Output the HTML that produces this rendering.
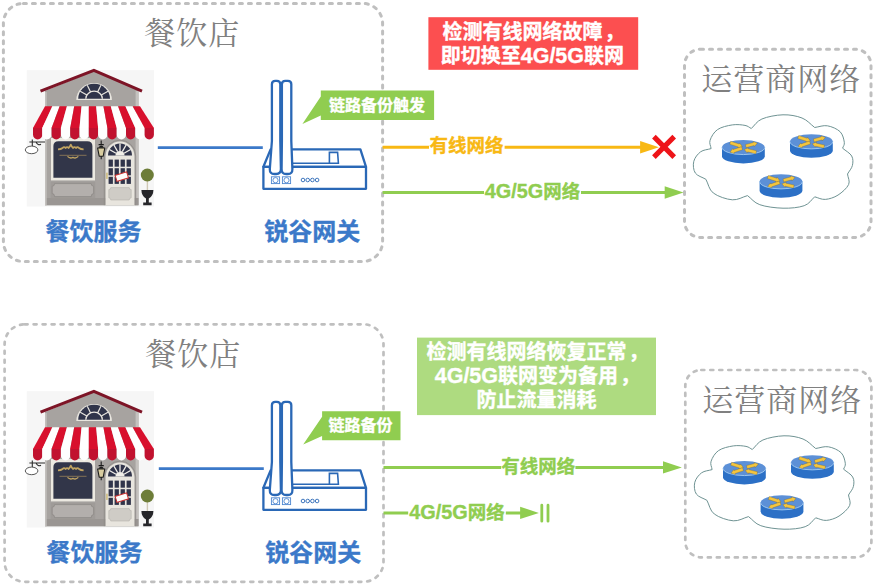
<!DOCTYPE html>
<html lang="zh-CN">
<head>
<meta charset="utf-8">
<title>链路备份</title>
<style>html,body{margin:0;padding:0;background:#fff;}svg{display:block;}</style>
</head>
<body>
<svg width="875" height="586" viewBox="0 0 875 586">
<rect width="875" height="586" fill="#ffffff"/>
<g>
<line x1="157.8" y1="147.6" x2="262.8" y2="147.6" stroke="#3b79c9" stroke-width="2.6"/>
<text x="192.2" y="44.0" font-family='"Liberation Serif", "Noto Serif CJK SC", serif' font-size="31" font-weight="normal" fill="#808080" text-anchor="middle" letter-spacing="1">餐饮店</text>
<text x="93.5" y="240.2" font-family='"Liberation Sans", "Noto Sans CJK SC", sans-serif' font-size="24" font-weight="bold" fill="#3b79c9" text-anchor="middle" stroke="#3b79c9" stroke-width="0.35" stroke-linejoin="round">餐饮服务</text>
<text x="312.3" y="240.2" font-family='"Liberation Sans", "Noto Sans CJK SC", sans-serif' font-size="24" font-weight="bold" fill="#3b79c9" text-anchor="middle" stroke="#3b79c9" stroke-width="0.35" stroke-linejoin="round">锐谷网关</text>
<text x="781.2" y="90.0" font-family='"Liberation Serif", "Noto Serif CJK SC", serif' font-size="31" font-weight="normal" fill="#808080" text-anchor="middle" letter-spacing="1">运营商网络</text>
<path d="M711.1,148.6 C710.8,145.8 709.0,143.4 710.1,140.2 C711.2,137.0 713.8,132.1 717.5,129.6 C721.2,127.0 727.7,125.6 732.3,124.9 C736.9,124.2 741.8,124.8 745.0,125.4 C748.2,126.0 749.2,127.5 751.3,128.5 C754.8,125.3 756.6,121.3 761.9,119.0 C767.2,116.7 776.3,115.0 783.0,114.8 C789.7,114.6 796.7,115.9 802.0,118.0 C807.3,120.1 810.5,124.3 814.7,127.5 C818.9,126.9 823.2,125.1 827.4,125.8 C831.6,126.5 837.3,128.9 840.1,131.7 C842.9,134.4 843.9,139.6 844.3,142.3 C844.7,145.1 843.2,146.2 842.6,148.2 C845.6,150.8 850.1,153.1 851.7,156.0 C853.3,158.9 853.1,162.5 852.4,165.5 C851.7,168.5 849.1,171.2 847.5,174.0 C847.9,177.5 850.2,181.1 848.6,184.6 C847.0,188.1 841.9,192.6 838.0,195.1 C834.1,197.6 829.2,199.1 825.3,199.4 C821.4,199.7 818.2,197.7 814.7,196.8 C811.2,199.8 809.5,203.8 804.2,205.7 C798.9,207.6 790.4,208.4 783.0,208.2 C775.6,208.0 765.7,206.8 759.8,204.7 C753.9,202.6 751.6,198.6 747.5,195.6 C742.4,197.0 738.0,200.2 732.3,199.8 C726.6,199.4 717.7,196.4 713.3,193.0 C708.9,189.6 708.4,183.9 705.9,179.3 C702.4,177.2 697.3,176.0 695.3,173.0 C693.3,170.0 692.9,164.8 693.8,161.3 C694.7,157.8 697.7,153.9 700.6,151.8 C703.5,149.7 707.6,149.7 711.1,148.6 Z" fill="#ffffff" stroke="#6f9393" stroke-width="1" stroke-linejoin="round"/>
<path d="M722.0,147.3 V156.20000000000002 A21.4,7.3 0 0 0 764.8,156.20000000000002 V147.3 Z" fill="#2c70c6"/>
<ellipse cx="743.4" cy="147.3" rx="21.4" ry="7.3" fill="#5c90d7"/>
<path d="M722.0,147.3 A21.4,7.3 0 0 0 764.8,147.3" fill="none" stroke="#a4cdf3" stroke-width="0.9"/>
<g transform="translate(743.4 147.3)" fill="#f4c53e" stroke="#5a4a20" stroke-width="0.25">
<polygon points="-13.67,-3.12 -5.09,-0.38 -5.41,0.62 -1.00,-0.70 -3.83,-4.33 -4.15,-3.33 -12.73,-6.08"/>
<polygon points="2.79,0.30 10.71,-1.75 10.97,-0.73 14.00,-4.20 9.67,-5.77 9.93,-4.75 2.01,-2.70"/>
<polygon points="-1.90,-0.57 -10.31,2.30 -10.64,1.31 -13.40,5.00 -8.96,6.23 -9.30,5.24 -0.90,2.37"/>
<polygon points="13.15,3.49 4.85,1.55 5.09,0.53 0.80,2.20 3.91,5.60 4.15,4.57 12.45,6.51"/>
</g>
<path d="M790.0,141.6 V150.5 A21.4,7.3 0 0 0 832.8,150.5 V141.6 Z" fill="#2c70c6"/>
<ellipse cx="811.4" cy="141.6" rx="21.4" ry="7.3" fill="#5c90d7"/>
<path d="M790.0,141.6 A21.4,7.3 0 0 0 832.8,141.6" fill="none" stroke="#a4cdf3" stroke-width="0.9"/>
<g transform="translate(811.4 141.6)" fill="#f4c53e" stroke="#5a4a20" stroke-width="0.25">
<polygon points="-13.67,-3.12 -5.09,-0.38 -5.41,0.62 -1.00,-0.70 -3.83,-4.33 -4.15,-3.33 -12.73,-6.08"/>
<polygon points="2.79,0.30 10.71,-1.75 10.97,-0.73 14.00,-4.20 9.67,-5.77 9.93,-4.75 2.01,-2.70"/>
<polygon points="-1.90,-0.57 -10.31,2.30 -10.64,1.31 -13.40,5.00 -8.96,6.23 -9.30,5.24 -0.90,2.37"/>
<polygon points="13.15,3.49 4.85,1.55 5.09,0.53 0.80,2.20 3.91,5.60 4.15,4.57 12.45,6.51"/>
</g>
<path d="M759.6,181.6 V190.5 A21.4,7.3 0 0 0 802.4,190.5 V181.6 Z" fill="#2c70c6"/>
<ellipse cx="781" cy="181.6" rx="21.4" ry="7.3" fill="#5c90d7"/>
<path d="M759.6,181.6 A21.4,7.3 0 0 0 802.4,181.6" fill="none" stroke="#a4cdf3" stroke-width="0.9"/>
<g transform="translate(781 181.6)" fill="#f4c53e" stroke="#5a4a20" stroke-width="0.25">
<polygon points="-13.67,-3.12 -5.09,-0.38 -5.41,0.62 -1.00,-0.70 -3.83,-4.33 -4.15,-3.33 -12.73,-6.08"/>
<polygon points="2.79,0.30 10.71,-1.75 10.97,-0.73 14.00,-4.20 9.67,-5.77 9.93,-4.75 2.01,-2.70"/>
<polygon points="-1.90,-0.57 -10.31,2.30 -10.64,1.31 -13.40,5.00 -8.96,6.23 -9.30,5.24 -0.90,2.37"/>
<polygon points="13.15,3.49 4.85,1.55 5.09,0.53 0.80,2.20 3.91,5.60 4.15,4.57 12.45,6.51"/>
</g>
<rect x="26.8" y="70.2" width="127.2" height="136.3" fill="#f6f6f6"/>
<polygon points="45,205.2 45,91 93.9,71 138.5,89.5 138.5,205.2" fill="#a7a3a0"/>
<rect x="135.6" y="91" width="2.9" height="114.2" fill="#c4c1be"/>
<rect x="45" y="198" width="93.5" height="7.2" fill="#9a9693"/>
<polyline points="40.5,91.2 93.9,70.3 142,91.2" fill="none" stroke="#7d1426" stroke-width="3" stroke-linejoin="miter"/>
<path d="M76.3,100 A17.8,17 0 0 1 111.9,100 Z" fill="#e9e6df"/>
<path d="M78.2,98.8 A15.9,15 0 0 1 110,98.8 Z" fill="#30344a"/>
<path d="M85.8,98.8 A8.3,7.6 0 0 1 102.4,98.8" fill="none" stroke="#e9e6df" stroke-width="1.3"/>
<line x1="101.3" y1="95.0" x2="108.0" y2="91.3" stroke="#e9e6df" stroke-width="1.2"/>
<line x1="97.6" y1="91.9" x2="100.9" y2="85.2" stroke="#e9e6df" stroke-width="1.2"/>
<line x1="90.6" y1="91.9" x2="87.3" y2="85.2" stroke="#e9e6df" stroke-width="1.2"/>
<line x1="86.9" y1="95.0" x2="80.2" y2="91.3" stroke="#e9e6df" stroke-width="1.2"/>
<rect x="51" y="138" width="44" height="42.4" fill="#ece9e1"/>
<path d="M53.4,177.8 V146 Q53.4,141.2 58.5,141.2 H87.3 Q92.4,141.2 92.4,146 V177.8 Z" fill="#323649"/>
<path d="M58,149.4 q3,-0.1 4.6,-1.4 q1.5,-1.9 3,0 q1.5,-1.7 3,0 q1.3,-1.5 2.2,-3.4 q0.9,1.9 2.2,3.4 q1.5,-1.7 3,0 q1.5,-1.9 3,0 q1.6,1.3 4.6,1.4" fill="none" stroke="#c2a562" stroke-width="1.7" stroke-linejoin="round"/>
<rect x="45" y="92" width="1.7" height="113.2" fill="#c2bfbc"/>
<line x1="59.5" y1="155.3" x2="86.5" y2="155.3" stroke="#b89b5e" stroke-width="0.6"/>
<path d="M67.5,156.4 q2.5,2.6 5.4,1 q2.9,1.6 5.4,-1" fill="none" stroke="#c2a562" stroke-width="1.3"/>
<rect x="50.6" y="181.6" width="44.6" height="16.6" fill="#9f9b98"/>
<path d="M54.6,183.6 H91.2 Q91.2,186.2 93.6,186.2 V193.6 Q91.2,193.6 91.2,196.6 H54.6 Q54.6,193.6 52.2,193.6 V186.2 Q54.6,186.2 54.6,183.6 Z" fill="#b3afac" stroke="#8b8784" stroke-width="0.7"/>
<path d="M105.6,205.2 V156 A14.4,14.6 0 0 1 134.4,156 V205.2 Z" fill="#e8e5de"/>
<path d="M104.3,205.2 V156 A15.7,15.9 0 0 1 135.7,156 V205.2" fill="none" stroke="#8f8b88" stroke-width="0.9"/>
<path d="M108,155.6 A12,12 0 0 1 132,155.6 Z" fill="#30344a"/>
<line x1="124.0" y1="153.3" x2="130.6" y2="149.5" stroke="#f1efe9" stroke-width="1.3"/>
<line x1="122.3" y1="151.6" x2="126.1" y2="145.0" stroke="#f1efe9" stroke-width="1.3"/>
<line x1="120.0" y1="151.0" x2="120.0" y2="143.4" stroke="#f1efe9" stroke-width="1.3"/>
<line x1="117.7" y1="151.6" x2="113.9" y2="145.0" stroke="#f1efe9" stroke-width="1.3"/>
<line x1="116.0" y1="153.3" x2="109.4" y2="149.5" stroke="#f1efe9" stroke-width="1.3"/>
<path d="M115.4,155.6 A4.6,4.6 0 0 1 124.6,155.6 Z" fill="#f1efe9"/>
<rect x="108.6" y="159.6" width="4.3" height="7.1" fill="#30344a"/>
<rect x="114.6" y="159.6" width="4.3" height="7.1" fill="#30344a"/>
<rect x="120.6" y="159.6" width="4.3" height="7.1" fill="#30344a"/>
<rect x="126.6" y="159.6" width="4.3" height="7.1" fill="#30344a"/>
<rect x="108.6" y="168.2" width="4.3" height="7.1" fill="#30344a"/>
<rect x="114.6" y="168.2" width="4.3" height="7.1" fill="#30344a"/>
<rect x="120.6" y="168.2" width="4.3" height="7.1" fill="#30344a"/>
<rect x="126.6" y="168.2" width="4.3" height="7.1" fill="#30344a"/>
<rect x="108.6" y="176.8" width="4.3" height="7.1" fill="#30344a"/>
<rect x="114.6" y="176.8" width="4.3" height="7.1" fill="#30344a"/>
<rect x="120.6" y="176.8" width="4.3" height="7.1" fill="#30344a"/>
<rect x="126.6" y="176.8" width="4.3" height="7.1" fill="#30344a"/>
<path d="M110.8,187.6 H129.2 Q129.2,189.6 131.2,189.6 V197.8 Q129.2,197.8 129.2,200 H110.8 Q110.8,197.8 108.8,197.8 V189.6 Q110.8,189.6 110.8,187.6 Z" fill="#cfccc6" stroke="#b5b2ac" stroke-width="0.6"/>
<rect x="115.8" y="173.4" width="12" height="6.4" fill="#fdfcfa" stroke="#c62c2c" stroke-width="1" transform="rotate(-17 121.8 176.6)"/>
<rect x="106.3" y="172.5" width="1.3" height="6.5" rx="0.6" fill="#c8b36a"/>
<path d="M101.2,140.6 V144.2 M98.6,144.6 H103.8 M97.6,148 L99.2,156.2 H103.2 L104.8,148 Z M101.2,156.2 V159.2" fill="#d9cda0" stroke="#1c1c1c" stroke-width="1.1" stroke-linejoin="round"/>
<path d="M98.4,147.8 Q101.2,143 104,147.8 Z" fill="#1c1c1c"/>
<path d="M29.4,142 H45 M32.3,139.4 V146 M36,142 q2,4 5,2.2" fill="none" stroke="#2b2b2b" stroke-width="1.1"/>
<ellipse cx="31.6" cy="149.9" rx="6.3" ry="3.8" fill="#ffffff" stroke="#444444" stroke-width="0.9"/>
<path d="M33.00,127.7 H42.30 V134.8 A4.65,4.65 0 0 1 33.00,134.8 Z" fill="#c1122f"/>
<path d="M45.00,106.2 L52.31,106.2 L42.30,128.0 L33.00,128.0 Z" fill="#d8102d"/>
<path d="M42.30,127.7 H51.60 V134.8 A4.65,4.65 0 0 1 42.30,134.8 Z" fill="#fefefe"/>
<path d="M52.31,106.2 L59.62,106.2 L51.60,128.0 L42.30,128.0 Z" fill="#ffffff"/>
<path d="M51.60,127.7 H60.90 V134.8 A4.65,4.65 0 0 1 51.60,134.8 Z" fill="#c1122f"/>
<path d="M59.62,106.2 L66.92,106.2 L60.90,128.0 L51.60,128.0 Z" fill="#d8102d"/>
<path d="M60.90,127.7 H70.20 V134.8 A4.65,4.65 0 0 1 60.90,134.8 Z" fill="#fefefe"/>
<path d="M66.92,106.2 L74.23,106.2 L70.20,128.0 L60.90,128.0 Z" fill="#ffffff"/>
<path d="M70.20,127.7 H79.50 V134.8 A4.65,4.65 0 0 1 70.20,134.8 Z" fill="#c1122f"/>
<path d="M74.23,106.2 L81.54,106.2 L79.50,128.0 L70.20,128.0 Z" fill="#d8102d"/>
<path d="M79.50,127.7 H88.80 V134.8 A4.65,4.65 0 0 1 79.50,134.8 Z" fill="#fefefe"/>
<path d="M81.54,106.2 L88.85,106.2 L88.80,128.0 L79.50,128.0 Z" fill="#ffffff"/>
<path d="M88.80,127.7 H98.10 V134.8 A4.65,4.65 0 0 1 88.80,134.8 Z" fill="#c1122f"/>
<path d="M88.85,106.2 L96.15,106.2 L98.10,128.0 L88.80,128.0 Z" fill="#d8102d"/>
<path d="M98.10,127.7 H107.40 V134.8 A4.65,4.65 0 0 1 98.10,134.8 Z" fill="#fefefe"/>
<path d="M96.15,106.2 L103.46,106.2 L107.40,128.0 L98.10,128.0 Z" fill="#ffffff"/>
<path d="M107.40,127.7 H116.70 V134.8 A4.65,4.65 0 0 1 107.40,134.8 Z" fill="#c1122f"/>
<path d="M103.46,106.2 L110.77,106.2 L116.70,128.0 L107.40,128.0 Z" fill="#d8102d"/>
<path d="M116.70,127.7 H126.00 V134.8 A4.65,4.65 0 0 1 116.70,134.8 Z" fill="#fefefe"/>
<path d="M110.77,106.2 L118.08,106.2 L126.00,128.0 L116.70,128.0 Z" fill="#ffffff"/>
<path d="M126.00,127.7 H135.30 V134.8 A4.65,4.65 0 0 1 126.00,134.8 Z" fill="#c1122f"/>
<path d="M118.08,106.2 L125.38,106.2 L135.30,128.0 L126.00,128.0 Z" fill="#d8102d"/>
<path d="M135.30,127.7 H144.60 V134.8 A4.65,4.65 0 0 1 135.30,134.8 Z" fill="#fefefe"/>
<path d="M125.38,106.2 L132.69,106.2 L144.60,128.0 L135.30,128.0 Z" fill="#ffffff"/>
<path d="M144.60,127.7 H153.90 V134.8 A4.65,4.65 0 0 1 144.60,134.8 Z" fill="#c1122f"/>
<path d="M132.69,106.2 L140.00,106.2 L153.90,128.0 L144.60,128.0 Z" fill="#d8102d"/>
<rect x="146.7" y="180" width="1.4" height="11" fill="#cfc8b4"/>
<circle cx="147.3" cy="175" r="6.5" fill="#6d7d38"/>
<path d="M141.4,190 H153.4 Q153.4,195.5 148.8,198.6 V202.6 H151.6 V205.2 H143.2 V202.6 H146 V198.6 Q141.4,195.5 141.4,190 Z" fill="#26262a"/>
<polygon points="263.4,166.8 270.6,149.4 360.4,149.4 366,166.8" stroke="#2a68b6" stroke-width="2.3" fill="#ffffff" stroke-linejoin="round"/>
<rect x="263.4" y="166.8" width="102.6" height="22" stroke="#2a68b6" stroke-width="2.3" fill="#ffffff" stroke-linejoin="round"/>
<path d="M291,163.2 H329.4 M329.4,163.2 V152.4 H337.6 L338.4,163.2 Z" fill="none" stroke="#2a68b6" stroke-width="1.6"/>
<path d="M271.9,84.2 Q271.9,80.8 275.3,80.8 H276.9 Q280.3,80.8 280.3,84.2 V141 L280.9,169.1 Q280.9,174 276.2,174 H274.4 Q269.6,174 269.8,169.1 L271.9,141 Z" stroke="#2a68b6" stroke-width="2.3" fill="#ffffff" stroke-linejoin="round"/>
<path d="M281.9,84.2 Q281.9,80.8 285.3,80.8 H287.9 Q291.3,80.8 291.3,84.2 V141 L292.4,169.1 Q292.5,174 287.8,174 H286.2 Q281.5,174 281.6,169.1 L281.9,141 Z" stroke="#2a68b6" stroke-width="2.3" fill="#ffffff" stroke-linejoin="round"/>
<rect x="271.4" y="176.8" width="8.2" height="6.8" fill="#ffffff" stroke="#4d86cf" stroke-width="0.9"/>
<circle cx="275.5" cy="180.2" r="2.6" fill="none" stroke="#4d86cf" stroke-width="0.9"/>
<rect x="282.4" y="176.8" width="8.2" height="6.8" fill="#ffffff" stroke="#4d86cf" stroke-width="0.9"/>
<circle cx="286.5" cy="180.2" r="2.6" fill="none" stroke="#4d86cf" stroke-width="0.9"/>
<circle cx="303.0" cy="180" r="1.8" fill="none" stroke="#2a68b6" stroke-width="0.9"/>
<circle cx="307.7" cy="180" r="1.8" fill="none" stroke="#2a68b6" stroke-width="0.9"/>
<circle cx="312.4" cy="180" r="1.8" fill="none" stroke="#2a68b6" stroke-width="0.9"/>
<circle cx="317.1" cy="180" r="1.8" fill="none" stroke="#2a68b6" stroke-width="0.9"/>
<rect x="3.4" y="3.4" width="379.2" height="258.1" rx="20" ry="20" fill="none" stroke="#bfbfbf" stroke-width="3" stroke-dasharray="3 6" stroke-linecap="round"/>
<rect x="684.5" y="49.2" width="186.5" height="188.2" rx="16" ry="16" fill="none" stroke="#bfbfbf" stroke-width="3" stroke-dasharray="3 6" stroke-linecap="round"/>
<rect x="428.4" y="17.2" width="209.8" height="52.6" fill="#fc4f50"/>
<text x="533.6" y="39" font-family='"Liberation Sans", "Noto Sans CJK SC", sans-serif' font-size="20" font-weight="bold" fill="#ffffff" text-anchor="middle" stroke="#ffffff" stroke-width="0.35" stroke-linejoin="round">检测有线网络故障<tspan dx="2">，</tspan></text>
<text x="532.4" y="62.6" font-family='"Liberation Sans", "Noto Sans CJK SC", sans-serif' font-size="20" font-weight="bold" fill="#ffffff" text-anchor="middle" stroke="#ffffff" stroke-width="0.35" stroke-linejoin="round">即切换至<tspan font-size="21.50">4G/5G</tspan>联网</text>
<polygon points="320.8,90.6 434.1,90.6 434.1,119.9 320.8,119.9 320.8,115.5 302.4,124 320.8,96.5" fill="#90cd50"/>
<text x="377" y="110.6" font-family='"Liberation Sans", "Noto Sans CJK SC", sans-serif' font-size="16" font-weight="bold" fill="#ffffff" text-anchor="middle" stroke="#ffffff" stroke-width="0.35" stroke-linejoin="round">链路备份触发</text>
<line x1="382.6" y1="147.3" x2="641.1" y2="147.3" stroke="#f8b814" stroke-width="3"/><polygon points="640.1,141.10000000000002 658.9,147.3 640.1,153.5" fill="#f8b814"/>
<rect x="429" y="136" width="75.6" height="20" fill="#ffffff"/>
<text x="466.5" y="152.0" font-family='"Liberation Sans", "Noto Sans CJK SC", sans-serif' font-size="18.5" font-weight="bold" fill="#f8b814" text-anchor="middle" stroke="#f8b814" stroke-width="0.35" stroke-linejoin="round">有线网络</text>
<path d="M653.9,136.6 L674.2,157.1 M674.2,136.6 L653.9,157.1" stroke="#ee1419" stroke-width="5.1" fill="none"/>
<line x1="382.6" y1="192.5" x2="665.7" y2="192.5" stroke="#90cd50" stroke-width="3"/><polygon points="664.7,186.3 683.5,192.5 664.7,198.7" fill="#90cd50"/>
<rect x="484" y="181" width="97" height="21" fill="#ffffff"/>
<text x="532.5" y="197.9" font-family='"Liberation Sans", "Noto Sans CJK SC", sans-serif' font-size="18.5" font-weight="bold" fill="#90cd50" text-anchor="middle" stroke="#90cd50" stroke-width="0.35" stroke-linejoin="round"><tspan font-size="19.89">4G/5G</tspan>网络</text>
</g>
<g transform="translate(0 321)">
<rect x="26.8" y="70.2" width="127.2" height="136.3" fill="#f6f6f6"/>
<polygon points="45,205.2 45,91 93.9,71 138.5,89.5 138.5,205.2" fill="#a7a3a0"/>
<rect x="135.6" y="91" width="2.9" height="114.2" fill="#c4c1be"/>
<rect x="45" y="198" width="93.5" height="7.2" fill="#9a9693"/>
<polyline points="40.5,91.2 93.9,70.3 142,91.2" fill="none" stroke="#7d1426" stroke-width="3" stroke-linejoin="miter"/>
<path d="M76.3,100 A17.8,17 0 0 1 111.9,100 Z" fill="#e9e6df"/>
<path d="M78.2,98.8 A15.9,15 0 0 1 110,98.8 Z" fill="#30344a"/>
<path d="M85.8,98.8 A8.3,7.6 0 0 1 102.4,98.8" fill="none" stroke="#e9e6df" stroke-width="1.3"/>
<line x1="101.3" y1="95.0" x2="108.0" y2="91.3" stroke="#e9e6df" stroke-width="1.2"/>
<line x1="97.6" y1="91.9" x2="100.9" y2="85.2" stroke="#e9e6df" stroke-width="1.2"/>
<line x1="90.6" y1="91.9" x2="87.3" y2="85.2" stroke="#e9e6df" stroke-width="1.2"/>
<line x1="86.9" y1="95.0" x2="80.2" y2="91.3" stroke="#e9e6df" stroke-width="1.2"/>
<rect x="51" y="138" width="44" height="42.4" fill="#ece9e1"/>
<path d="M53.4,177.8 V146 Q53.4,141.2 58.5,141.2 H87.3 Q92.4,141.2 92.4,146 V177.8 Z" fill="#323649"/>
<path d="M58,149.4 q3,-0.1 4.6,-1.4 q1.5,-1.9 3,0 q1.5,-1.7 3,0 q1.3,-1.5 2.2,-3.4 q0.9,1.9 2.2,3.4 q1.5,-1.7 3,0 q1.5,-1.9 3,0 q1.6,1.3 4.6,1.4" fill="none" stroke="#c2a562" stroke-width="1.7" stroke-linejoin="round"/>
<rect x="45" y="92" width="1.7" height="113.2" fill="#c2bfbc"/>
<line x1="59.5" y1="155.3" x2="86.5" y2="155.3" stroke="#b89b5e" stroke-width="0.6"/>
<path d="M67.5,156.4 q2.5,2.6 5.4,1 q2.9,1.6 5.4,-1" fill="none" stroke="#c2a562" stroke-width="1.3"/>
<rect x="50.6" y="181.6" width="44.6" height="16.6" fill="#9f9b98"/>
<path d="M54.6,183.6 H91.2 Q91.2,186.2 93.6,186.2 V193.6 Q91.2,193.6 91.2,196.6 H54.6 Q54.6,193.6 52.2,193.6 V186.2 Q54.6,186.2 54.6,183.6 Z" fill="#b3afac" stroke="#8b8784" stroke-width="0.7"/>
<path d="M105.6,205.2 V156 A14.4,14.6 0 0 1 134.4,156 V205.2 Z" fill="#e8e5de"/>
<path d="M104.3,205.2 V156 A15.7,15.9 0 0 1 135.7,156 V205.2" fill="none" stroke="#8f8b88" stroke-width="0.9"/>
<path d="M108,155.6 A12,12 0 0 1 132,155.6 Z" fill="#30344a"/>
<line x1="124.0" y1="153.3" x2="130.6" y2="149.5" stroke="#f1efe9" stroke-width="1.3"/>
<line x1="122.3" y1="151.6" x2="126.1" y2="145.0" stroke="#f1efe9" stroke-width="1.3"/>
<line x1="120.0" y1="151.0" x2="120.0" y2="143.4" stroke="#f1efe9" stroke-width="1.3"/>
<line x1="117.7" y1="151.6" x2="113.9" y2="145.0" stroke="#f1efe9" stroke-width="1.3"/>
<line x1="116.0" y1="153.3" x2="109.4" y2="149.5" stroke="#f1efe9" stroke-width="1.3"/>
<path d="M115.4,155.6 A4.6,4.6 0 0 1 124.6,155.6 Z" fill="#f1efe9"/>
<rect x="108.6" y="159.6" width="4.3" height="7.1" fill="#30344a"/>
<rect x="114.6" y="159.6" width="4.3" height="7.1" fill="#30344a"/>
<rect x="120.6" y="159.6" width="4.3" height="7.1" fill="#30344a"/>
<rect x="126.6" y="159.6" width="4.3" height="7.1" fill="#30344a"/>
<rect x="108.6" y="168.2" width="4.3" height="7.1" fill="#30344a"/>
<rect x="114.6" y="168.2" width="4.3" height="7.1" fill="#30344a"/>
<rect x="120.6" y="168.2" width="4.3" height="7.1" fill="#30344a"/>
<rect x="126.6" y="168.2" width="4.3" height="7.1" fill="#30344a"/>
<rect x="108.6" y="176.8" width="4.3" height="7.1" fill="#30344a"/>
<rect x="114.6" y="176.8" width="4.3" height="7.1" fill="#30344a"/>
<rect x="120.6" y="176.8" width="4.3" height="7.1" fill="#30344a"/>
<rect x="126.6" y="176.8" width="4.3" height="7.1" fill="#30344a"/>
<path d="M110.8,187.6 H129.2 Q129.2,189.6 131.2,189.6 V197.8 Q129.2,197.8 129.2,200 H110.8 Q110.8,197.8 108.8,197.8 V189.6 Q110.8,189.6 110.8,187.6 Z" fill="#cfccc6" stroke="#b5b2ac" stroke-width="0.6"/>
<rect x="115.8" y="173.4" width="12" height="6.4" fill="#fdfcfa" stroke="#c62c2c" stroke-width="1" transform="rotate(-17 121.8 176.6)"/>
<rect x="106.3" y="172.5" width="1.3" height="6.5" rx="0.6" fill="#c8b36a"/>
<path d="M101.2,140.6 V144.2 M98.6,144.6 H103.8 M97.6,148 L99.2,156.2 H103.2 L104.8,148 Z M101.2,156.2 V159.2" fill="#d9cda0" stroke="#1c1c1c" stroke-width="1.1" stroke-linejoin="round"/>
<path d="M98.4,147.8 Q101.2,143 104,147.8 Z" fill="#1c1c1c"/>
<path d="M29.4,142 H45 M32.3,139.4 V146 M36,142 q2,4 5,2.2" fill="none" stroke="#2b2b2b" stroke-width="1.1"/>
<ellipse cx="31.6" cy="149.9" rx="6.3" ry="3.8" fill="#ffffff" stroke="#444444" stroke-width="0.9"/>
<path d="M33.00,127.7 H42.30 V134.8 A4.65,4.65 0 0 1 33.00,134.8 Z" fill="#c1122f"/>
<path d="M45.00,106.2 L52.31,106.2 L42.30,128.0 L33.00,128.0 Z" fill="#d8102d"/>
<path d="M42.30,127.7 H51.60 V134.8 A4.65,4.65 0 0 1 42.30,134.8 Z" fill="#fefefe"/>
<path d="M52.31,106.2 L59.62,106.2 L51.60,128.0 L42.30,128.0 Z" fill="#ffffff"/>
<path d="M51.60,127.7 H60.90 V134.8 A4.65,4.65 0 0 1 51.60,134.8 Z" fill="#c1122f"/>
<path d="M59.62,106.2 L66.92,106.2 L60.90,128.0 L51.60,128.0 Z" fill="#d8102d"/>
<path d="M60.90,127.7 H70.20 V134.8 A4.65,4.65 0 0 1 60.90,134.8 Z" fill="#fefefe"/>
<path d="M66.92,106.2 L74.23,106.2 L70.20,128.0 L60.90,128.0 Z" fill="#ffffff"/>
<path d="M70.20,127.7 H79.50 V134.8 A4.65,4.65 0 0 1 70.20,134.8 Z" fill="#c1122f"/>
<path d="M74.23,106.2 L81.54,106.2 L79.50,128.0 L70.20,128.0 Z" fill="#d8102d"/>
<path d="M79.50,127.7 H88.80 V134.8 A4.65,4.65 0 0 1 79.50,134.8 Z" fill="#fefefe"/>
<path d="M81.54,106.2 L88.85,106.2 L88.80,128.0 L79.50,128.0 Z" fill="#ffffff"/>
<path d="M88.80,127.7 H98.10 V134.8 A4.65,4.65 0 0 1 88.80,134.8 Z" fill="#c1122f"/>
<path d="M88.85,106.2 L96.15,106.2 L98.10,128.0 L88.80,128.0 Z" fill="#d8102d"/>
<path d="M98.10,127.7 H107.40 V134.8 A4.65,4.65 0 0 1 98.10,134.8 Z" fill="#fefefe"/>
<path d="M96.15,106.2 L103.46,106.2 L107.40,128.0 L98.10,128.0 Z" fill="#ffffff"/>
<path d="M107.40,127.7 H116.70 V134.8 A4.65,4.65 0 0 1 107.40,134.8 Z" fill="#c1122f"/>
<path d="M103.46,106.2 L110.77,106.2 L116.70,128.0 L107.40,128.0 Z" fill="#d8102d"/>
<path d="M116.70,127.7 H126.00 V134.8 A4.65,4.65 0 0 1 116.70,134.8 Z" fill="#fefefe"/>
<path d="M110.77,106.2 L118.08,106.2 L126.00,128.0 L116.70,128.0 Z" fill="#ffffff"/>
<path d="M126.00,127.7 H135.30 V134.8 A4.65,4.65 0 0 1 126.00,134.8 Z" fill="#c1122f"/>
<path d="M118.08,106.2 L125.38,106.2 L135.30,128.0 L126.00,128.0 Z" fill="#d8102d"/>
<path d="M135.30,127.7 H144.60 V134.8 A4.65,4.65 0 0 1 135.30,134.8 Z" fill="#fefefe"/>
<path d="M125.38,106.2 L132.69,106.2 L144.60,128.0 L135.30,128.0 Z" fill="#ffffff"/>
<path d="M144.60,127.7 H153.90 V134.8 A4.65,4.65 0 0 1 144.60,134.8 Z" fill="#c1122f"/>
<path d="M132.69,106.2 L140.00,106.2 L153.90,128.0 L144.60,128.0 Z" fill="#d8102d"/>
<rect x="146.7" y="180" width="1.4" height="11" fill="#cfc8b4"/>
<circle cx="147.3" cy="175" r="6.5" fill="#6d7d38"/>
<path d="M141.4,190 H153.4 Q153.4,195.5 148.8,198.6 V202.6 H151.6 V205.2 H143.2 V202.6 H146 V198.6 Q141.4,195.5 141.4,190 Z" fill="#26262a"/>
<polygon points="263.4,166.8 270.6,149.4 360.4,149.4 366,166.8" stroke="#2a68b6" stroke-width="2.3" fill="#ffffff" stroke-linejoin="round"/>
<rect x="263.4" y="166.8" width="102.6" height="22" stroke="#2a68b6" stroke-width="2.3" fill="#ffffff" stroke-linejoin="round"/>
<path d="M291,163.2 H329.4 M329.4,163.2 V152.4 H337.6 L338.4,163.2 Z" fill="none" stroke="#2a68b6" stroke-width="1.6"/>
<path d="M271.9,84.2 Q271.9,80.8 275.3,80.8 H276.9 Q280.3,80.8 280.3,84.2 V141 L280.9,169.1 Q280.9,174 276.2,174 H274.4 Q269.6,174 269.8,169.1 L271.9,141 Z" stroke="#2a68b6" stroke-width="2.3" fill="#ffffff" stroke-linejoin="round"/>
<path d="M281.9,84.2 Q281.9,80.8 285.3,80.8 H287.9 Q291.3,80.8 291.3,84.2 V141 L292.4,169.1 Q292.5,174 287.8,174 H286.2 Q281.5,174 281.6,169.1 L281.9,141 Z" stroke="#2a68b6" stroke-width="2.3" fill="#ffffff" stroke-linejoin="round"/>
<rect x="271.4" y="176.8" width="8.2" height="6.8" fill="#ffffff" stroke="#4d86cf" stroke-width="0.9"/>
<circle cx="275.5" cy="180.2" r="2.6" fill="none" stroke="#4d86cf" stroke-width="0.9"/>
<rect x="282.4" y="176.8" width="8.2" height="6.8" fill="#ffffff" stroke="#4d86cf" stroke-width="0.9"/>
<circle cx="286.5" cy="180.2" r="2.6" fill="none" stroke="#4d86cf" stroke-width="0.9"/>
<circle cx="303.0" cy="180" r="1.8" fill="none" stroke="#2a68b6" stroke-width="0.9"/>
<circle cx="307.7" cy="180" r="1.8" fill="none" stroke="#2a68b6" stroke-width="0.9"/>
<circle cx="312.4" cy="180" r="1.8" fill="none" stroke="#2a68b6" stroke-width="0.9"/>
<circle cx="317.1" cy="180" r="1.8" fill="none" stroke="#2a68b6" stroke-width="0.9"/>
</g>
<g transform="translate(1 321)">
<line x1="157.8" y1="147.6" x2="262.8" y2="147.6" stroke="#3b79c9" stroke-width="2.6"/>
<text x="192.2" y="44.0" font-family='"Liberation Serif", "Noto Serif CJK SC", serif' font-size="31" font-weight="normal" fill="#808080" text-anchor="middle" letter-spacing="1">餐饮店</text>
<text x="93.5" y="240.2" font-family='"Liberation Sans", "Noto Sans CJK SC", sans-serif' font-size="24" font-weight="bold" fill="#3b79c9" text-anchor="middle" stroke="#3b79c9" stroke-width="0.35" stroke-linejoin="round">餐饮服务</text>
<text x="312.3" y="240.2" font-family='"Liberation Sans", "Noto Sans CJK SC", sans-serif' font-size="24" font-weight="bold" fill="#3b79c9" text-anchor="middle" stroke="#3b79c9" stroke-width="0.35" stroke-linejoin="round">锐谷网关</text>
<text x="781.2" y="90.0" font-family='"Liberation Serif", "Noto Serif CJK SC", serif' font-size="31" font-weight="normal" fill="#808080" text-anchor="middle" letter-spacing="1">运营商网络</text>
<path d="M711.1,148.6 C710.8,145.8 709.0,143.4 710.1,140.2 C711.2,137.0 713.8,132.1 717.5,129.6 C721.2,127.0 727.7,125.6 732.3,124.9 C736.9,124.2 741.8,124.8 745.0,125.4 C748.2,126.0 749.2,127.5 751.3,128.5 C754.8,125.3 756.6,121.3 761.9,119.0 C767.2,116.7 776.3,115.0 783.0,114.8 C789.7,114.6 796.7,115.9 802.0,118.0 C807.3,120.1 810.5,124.3 814.7,127.5 C818.9,126.9 823.2,125.1 827.4,125.8 C831.6,126.5 837.3,128.9 840.1,131.7 C842.9,134.4 843.9,139.6 844.3,142.3 C844.7,145.1 843.2,146.2 842.6,148.2 C845.6,150.8 850.1,153.1 851.7,156.0 C853.3,158.9 853.1,162.5 852.4,165.5 C851.7,168.5 849.1,171.2 847.5,174.0 C847.9,177.5 850.2,181.1 848.6,184.6 C847.0,188.1 841.9,192.6 838.0,195.1 C834.1,197.6 829.2,199.1 825.3,199.4 C821.4,199.7 818.2,197.7 814.7,196.8 C811.2,199.8 809.5,203.8 804.2,205.7 C798.9,207.6 790.4,208.4 783.0,208.2 C775.6,208.0 765.7,206.8 759.8,204.7 C753.9,202.6 751.6,198.6 747.5,195.6 C742.4,197.0 738.0,200.2 732.3,199.8 C726.6,199.4 717.7,196.4 713.3,193.0 C708.9,189.6 708.4,183.9 705.9,179.3 C702.4,177.2 697.3,176.0 695.3,173.0 C693.3,170.0 692.9,164.8 693.8,161.3 C694.7,157.8 697.7,153.9 700.6,151.8 C703.5,149.7 707.6,149.7 711.1,148.6 Z" fill="#ffffff" stroke="#6f9393" stroke-width="1" stroke-linejoin="round"/>
<path d="M722.0,147.3 V156.20000000000002 A21.4,7.3 0 0 0 764.8,156.20000000000002 V147.3 Z" fill="#2c70c6"/>
<ellipse cx="743.4" cy="147.3" rx="21.4" ry="7.3" fill="#5c90d7"/>
<path d="M722.0,147.3 A21.4,7.3 0 0 0 764.8,147.3" fill="none" stroke="#a4cdf3" stroke-width="0.9"/>
<g transform="translate(743.4 147.3)" fill="#f4c53e" stroke="#5a4a20" stroke-width="0.25">
<polygon points="-13.67,-3.12 -5.09,-0.38 -5.41,0.62 -1.00,-0.70 -3.83,-4.33 -4.15,-3.33 -12.73,-6.08"/>
<polygon points="2.79,0.30 10.71,-1.75 10.97,-0.73 14.00,-4.20 9.67,-5.77 9.93,-4.75 2.01,-2.70"/>
<polygon points="-1.90,-0.57 -10.31,2.30 -10.64,1.31 -13.40,5.00 -8.96,6.23 -9.30,5.24 -0.90,2.37"/>
<polygon points="13.15,3.49 4.85,1.55 5.09,0.53 0.80,2.20 3.91,5.60 4.15,4.57 12.45,6.51"/>
</g>
<path d="M790.0,141.6 V150.5 A21.4,7.3 0 0 0 832.8,150.5 V141.6 Z" fill="#2c70c6"/>
<ellipse cx="811.4" cy="141.6" rx="21.4" ry="7.3" fill="#5c90d7"/>
<path d="M790.0,141.6 A21.4,7.3 0 0 0 832.8,141.6" fill="none" stroke="#a4cdf3" stroke-width="0.9"/>
<g transform="translate(811.4 141.6)" fill="#f4c53e" stroke="#5a4a20" stroke-width="0.25">
<polygon points="-13.67,-3.12 -5.09,-0.38 -5.41,0.62 -1.00,-0.70 -3.83,-4.33 -4.15,-3.33 -12.73,-6.08"/>
<polygon points="2.79,0.30 10.71,-1.75 10.97,-0.73 14.00,-4.20 9.67,-5.77 9.93,-4.75 2.01,-2.70"/>
<polygon points="-1.90,-0.57 -10.31,2.30 -10.64,1.31 -13.40,5.00 -8.96,6.23 -9.30,5.24 -0.90,2.37"/>
<polygon points="13.15,3.49 4.85,1.55 5.09,0.53 0.80,2.20 3.91,5.60 4.15,4.57 12.45,6.51"/>
</g>
<path d="M759.6,181.6 V190.5 A21.4,7.3 0 0 0 802.4,190.5 V181.6 Z" fill="#2c70c6"/>
<ellipse cx="781" cy="181.6" rx="21.4" ry="7.3" fill="#5c90d7"/>
<path d="M759.6,181.6 A21.4,7.3 0 0 0 802.4,181.6" fill="none" stroke="#a4cdf3" stroke-width="0.9"/>
<g transform="translate(781 181.6)" fill="#f4c53e" stroke="#5a4a20" stroke-width="0.25">
<polygon points="-13.67,-3.12 -5.09,-0.38 -5.41,0.62 -1.00,-0.70 -3.83,-4.33 -4.15,-3.33 -12.73,-6.08"/>
<polygon points="2.79,0.30 10.71,-1.75 10.97,-0.73 14.00,-4.20 9.67,-5.77 9.93,-4.75 2.01,-2.70"/>
<polygon points="-1.90,-0.57 -10.31,2.30 -10.64,1.31 -13.40,5.00 -8.96,6.23 -9.30,5.24 -0.90,2.37"/>
<polygon points="13.15,3.49 4.85,1.55 5.09,0.53 0.80,2.20 3.91,5.60 4.15,4.57 12.45,6.51"/>
</g>
<rect x="3.6" y="3.3" width="378.9" height="257.5" rx="20" ry="20" fill="none" stroke="#bfbfbf" stroke-width="2.7" stroke-dasharray="3 6" stroke-linecap="round"/>
<rect x="684.3" y="49" width="186.1" height="187.4" rx="16" ry="16" fill="none" stroke="#bfbfbf" stroke-width="2.7" stroke-dasharray="3 6" stroke-linecap="round"/>
</g>
<rect x="417" y="337.6" width="239" height="77.5" fill="#aedb80"/>
<text x="537.4" y="359.2" font-family='"Liberation Sans", "Noto Sans CJK SC", sans-serif' font-size="20" font-weight="bold" fill="#ffffff" text-anchor="middle" stroke="#ffffff" stroke-width="0.35" stroke-linejoin="round">检测有线网络恢复正常<tspan dx="2">，</tspan></text>
<text x="537.4" y="383.0" font-family='"Liberation Sans", "Noto Sans CJK SC", sans-serif' font-size="20" font-weight="bold" fill="#ffffff" text-anchor="middle" stroke="#ffffff" stroke-width="0.35" stroke-linejoin="round"><tspan font-size="21.50">4G/5G</tspan>联网变为备用<tspan dx="2">，</tspan></text>
<text x="536.5" y="406.8" font-family='"Liberation Sans", "Noto Sans CJK SC", sans-serif' font-size="20" font-weight="bold" fill="#ffffff" text-anchor="middle" stroke="#ffffff" stroke-width="0.35" stroke-linejoin="round">防止流量消耗</text>
<polygon points="322.1,411.2 400.5,411.2 400.5,440.3 322.1,440.3 322.1,436 303.2,444.5 322.1,416.8" fill="#90cd50"/>
<text x="360.6" y="431.2" font-family='"Liberation Sans", "Noto Sans CJK SC", sans-serif' font-size="16" font-weight="bold" fill="#ffffff" text-anchor="middle" stroke="#ffffff" stroke-width="0.35" stroke-linejoin="round">链路备份</text>
<line x1="383.5" y1="467.4" x2="664.0" y2="467.4" stroke="#90cd50" stroke-width="3"/><polygon points="663.0,461.2 681.8,467.4 663.0,473.59999999999997" fill="#90cd50"/>
<rect x="501.2" y="456" width="74.2" height="22" fill="#ffffff"/>
<text x="538.2" y="472.8" font-family='"Liberation Sans", "Noto Sans CJK SC", sans-serif' font-size="18.5" font-weight="bold" fill="#90cd50" text-anchor="middle" stroke="#90cd50" stroke-width="0.35" stroke-linejoin="round">有线网络</text>
<line x1="383.5" y1="512.9" x2="521.1" y2="512.9" stroke="#90cd50" stroke-width="3"/><polygon points="520.1,506.7 538.9,512.9 520.1,519.1" fill="#90cd50"/>
<rect x="408.2" y="502" width="97.6" height="22" fill="#ffffff"/>
<text x="457" y="519" font-family='"Liberation Sans", "Noto Sans CJK SC", sans-serif' font-size="18.5" font-weight="bold" fill="#90cd50" text-anchor="middle" stroke="#90cd50" stroke-width="0.35" stroke-linejoin="round"><tspan font-size="19.89">4G/5G</tspan>网络</text>
<path d="M541.8,505.2 V521.2 M548,505.2 V521.2" stroke="#90cd50" stroke-width="2.8" stroke-linecap="round" fill="none"/>
</svg>
</body>
</html>
